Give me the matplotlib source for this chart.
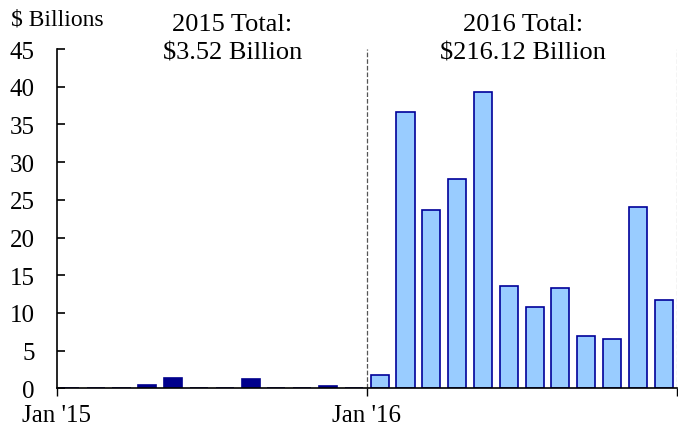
import matplotlib
matplotlib.use('Agg')
import matplotlib.pyplot as plt

plt.rcParams['font.family'] = ['Liberation Serif', 'DejaVu Serif']

# monthly values, $ billions
vals_2015 = [0.03, 0.03, 0.03, 0.45, 1.35, 0.03, 0.03, 1.2, 0.03, 0.03, 0.3, 0.03]
vals_2016 = [1.8, 36.7, 23.6, 27.8, 39.3, 13.6, 10.8, 13.3, 6.9, 6.6, 24.1, 11.7]
yticks = [0, 5, 10, 15, 20, 25, 30, 35, 40, 45]
xtick_labels = ["Jan '15", "Jan '16", ""]

fig = plt.figure(figsize=(6.78, 4.35), dpi=100)
ax = fig.add_axes([0.084, 0.105, 0.914, 0.78])

x15 = [i + 0.5 for i in range(12)]
x16 = [i + 12.5 for i in range(12)]
ax.bar(x15, vals_2015, width=0.7, color='#00008C', edgecolor='#00008C', linewidth=1.2, zorder=3)
ax.bar(x16, vals_2016, width=0.7, color='#99CCFF', edgecolor='#000099', linewidth=1.2, zorder=3)

# dividers
ax.axvline(12, color='#555555', linestyle='--', linewidth=0.9, zorder=1)
ax.axvline(24, color='#aaaaaa', linestyle='--', linewidth=0.9, zorder=1)

ax.set_xlim(0, 24)
ax.set_ylim(0, 45)
ax.set_yticks(yticks)
ax.set_xticks([0, 12, 24])
ax.set_xticklabels(xtick_labels)
ax.tick_params(axis='y', direction='in', length=6, width=1.2, pad=16, labelsize=18)
ax.tick_params(axis='x', direction='out', length=6, width=1.0, pad=5, labelsize=18)

for s in ['top', 'right']:
    ax.spines[s].set_visible(False)
ax.spines['left'].set_linewidth(1.2)
ax.spines['bottom'].set_linewidth(1.2)
ax.spines['bottom'].set_zorder(4)

fig.text(0.016, 0.953, '$ Billions', fontsize=17, ha='left', va='center')
fig.text(0.343, 0.91, '2015 Total:\n$3.52 Billion', fontsize=19, ha='center', va='center', linespacing=1.35)
fig.text(0.772, 0.91, '2016 Total:\n$216.12 Billion', fontsize=19, ha='center', va='center', linespacing=1.35)

fig.savefig('out.png', dpi=100)
